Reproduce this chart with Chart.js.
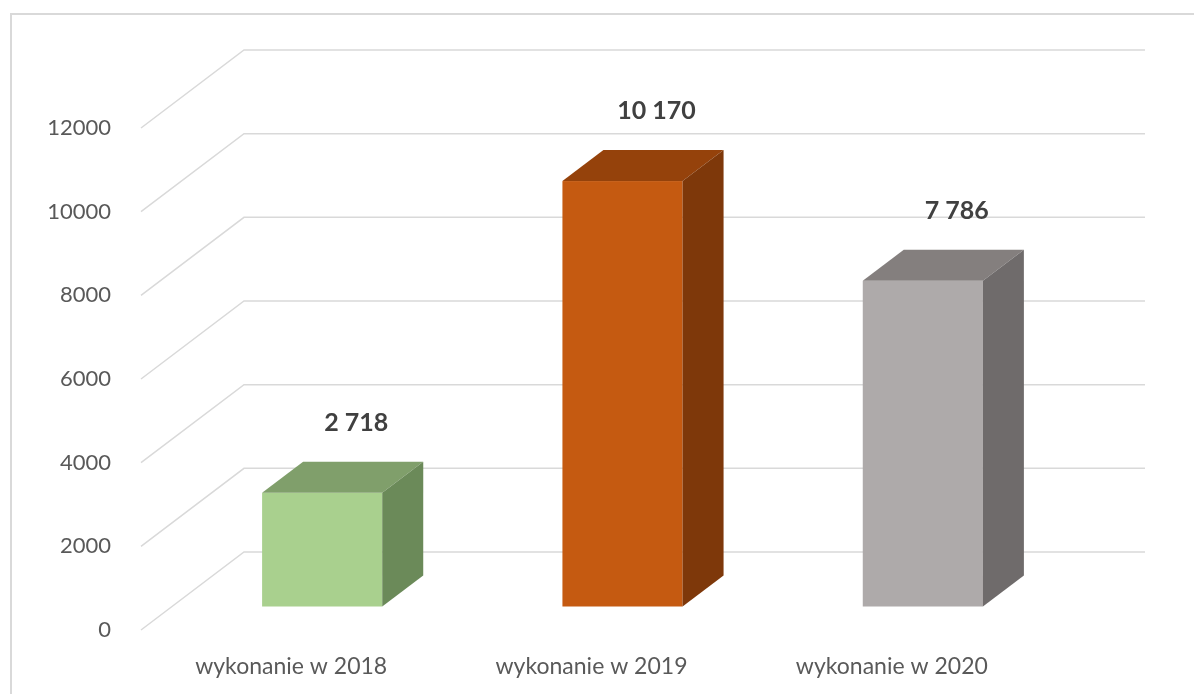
<!DOCTYPE html>
<html>
<head>
<meta charset="utf-8">
<script src="https://cdn.jsdelivr.net/npm/chart.js@4"></script>
<style>
    html, body { margin: 0; padding: 0; background: #fff; overflow: hidden; }
    #wrap { position: relative; width: 1194px; height: 694px; }
</style>
</head>
<body>
<div id="wrap"><canvas id="chart" width="1194" height="694"></canvas></div>
<script>
// Chart data
const categories = ['wykonanie w 2018', 'wykonanie w 2019', 'wykonanie w 2020'];
const values = [2718, 10170, 7786];
const yTicks = [0, 2000, 4000, 6000, 8000, 10000, 12000];

// Bar colours: front, top, side
const frontColors = ['#a9d08e', '#c55a11', '#aeaaaa'];
const topColors = ['#809f6b', '#95420b', '#847f7e'];
const sideColors = ['#6b8a59', '#7e380a', '#6f6b6b'];

// 3D depth of the floor and of the boxes
const DEPTH_X = 103;
const DEPTH_Y = 78;
const BOX_X = 41;
const BOX_Y = 31;

function formatNumber(v) {
    return String(v).replace(/\B(?=(\d{3})+(?!\d))/g, ' ');
}

// Draws the border, the back walls and the 3D grid
const wallsPlugin = {
    id: 'walls',
    beforeDatasetsDraw(chart) {
        const ctx = chart.ctx;
        const area = chart.chartArea;
        const y = chart.scales.y;

        ctx.save();
        // outer frame
        ctx.strokeStyle = '#d9d9d9';
        ctx.lineWidth = 2;
        ctx.beginPath();
        ctx.moveTo(11, 800);
        ctx.lineTo(11, 14);
        ctx.lineTo(1300, 14);
        ctx.stroke();

        // gridlines: diagonal on side wall, horizontal on back wall
        ctx.strokeStyle = '#d9d9d9';
        ctx.lineWidth = 1.5;
        yTicks.forEach(function(t) {
            const py = y.getPixelForValue(t);
            ctx.beginPath();
            ctx.moveTo(area.left, py);
            ctx.lineTo(area.left + DEPTH_X, py - DEPTH_Y);
            ctx.lineTo(area.right + DEPTH_X, py - DEPTH_Y);
            ctx.stroke();
        });
        ctx.restore();
    },
    afterDatasetsDraw(chart) {
        const ctx = chart.ctx;
        const meta = chart.getDatasetMeta(0);
        const y = chart.scales.y;
        // boxes sit in the middle of the floor depth
        const offX = (DEPTH_X - BOX_X) / 2;
        const offY = (DEPTH_Y - BOX_Y) / 2;

        ctx.save();
        meta.data.forEach(function(bar, i) {
            const x0 = bar.x - bar.width / 2 + offX;
            const x1 = bar.x + bar.width / 2 + offX;
            const yt = bar.y - offY;
            const yb = y.getPixelForValue(0) - offY;

            // front face
            ctx.fillStyle = frontColors[i];
            ctx.fillRect(x0, yt, x1 - x0, yb - yt);

            // top face
            ctx.fillStyle = topColors[i];
            ctx.beginPath();
            ctx.moveTo(x0, yt);
            ctx.lineTo(x1, yt);
            ctx.lineTo(x1 + BOX_X, yt - BOX_Y);
            ctx.lineTo(x0 + BOX_X, yt - BOX_Y);
            ctx.closePath();
            ctx.fill();

            // side face
            ctx.fillStyle = sideColors[i];
            ctx.beginPath();
            ctx.moveTo(x1, yt);
            ctx.lineTo(x1 + BOX_X, yt - BOX_Y);
            ctx.lineTo(x1 + BOX_X, yb - BOX_Y);
            ctx.lineTo(x1, yb);
            ctx.closePath();
            ctx.fill();

            // value label
            ctx.fillStyle = '#404040';
            ctx.font = 'bold 25px Lato, "Open Sans", sans-serif';
            ctx.textAlign = 'center';
            ctx.textBaseline = 'middle';
            ctx.fillText(formatNumber(values[i]), (x0 + x1) / 2 + 34, yt - 70);
        });
        ctx.restore();
    }
};

const ctx = document.getElementById('chart').getContext('2d');
new Chart(ctx, {
    type: 'bar',
    data: {
        labels: categories,
        datasets: [{
            data: values,
            backgroundColor: 'rgba(0,0,0,0)',
            borderWidth: 0,
            categoryPercentage: 1,
            barPercentage: 0.4
        }]
    },
    options: {
        responsive: false,
        animation: false,
        layout: {
            padding: { left: 0, right: 152, top: 128, bottom: 0 }
        },
        plugins: {
            legend: { display: false },
            tooltip: { enabled: false }
        },
        scales: {
            x: {
                grid: { display: false },
                border: { display: false },
                ticks: {
                    color: '#595959',
                    font: { family: 'Lato, "Open Sans", sans-serif', size: 23 },
                    padding: 15
                },
                afterFit: function(scale) { scale.height = 64; }
            },
            y: {
                min: 0,
                max: 12000,
                grid: { display: false },
                border: { display: false },
                ticks: {
                    stepSize: 2000,
                    color: '#595959',
                    font: { family: 'Lato, "Open Sans", sans-serif', size: 22 },
                    padding: 22,
                    callback: function(value) { return String(value); }
                },
                afterFit: function(scale) { scale.width = 141; }
            }
        }
    },
    plugins: [wallsPlugin]
});
</script>
</body>
</html>
